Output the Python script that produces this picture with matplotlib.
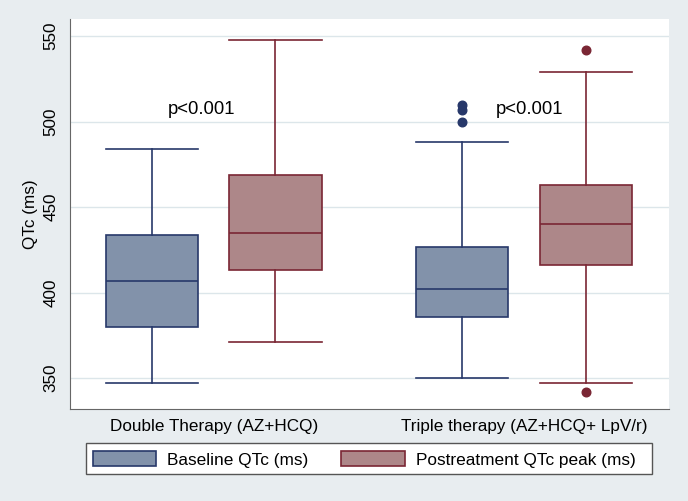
import numpy as np
import matplotlib
matplotlib.use("Agg")
import matplotlib.pyplot as plt
from matplotlib.patches import Patch, Rectangle

plt.rcParams['font.family'] = ['Liberation Sans', 'DejaVu Sans']

# Data (QTc in ms)
groups = ['Double Therapy (AZ+HCQ)', 'Triple therapy (AZ+HCQ+ LpV/r)']
series = ['Baseline QTc (ms)', 'Postreatment QTc peak (ms)']

# order: [double baseline, double post, triple baseline, triple post]
whislo = [347, 371, 350, 347]
q1 = [380, 413, 386, 416]
med = [407, 435, 402, 440]
q3 = [434, 469, 427, 463]
whishi = [484, 548, 488, 529]
fliers = [[], [], [500, 507, 510], [542, 342]]

p_text = ['p<0.001', 'p<0.001']
p_y = 507

bg = '#E8EDF0'
fills = ['#8292AA', '#AD8789']
edges = ['#27386A', '#7A2634']

W, H = 688, 501
fig = plt.figure(figsize=(6.88, 5.01), dpi=100, facecolor=bg)
ax = fig.add_axes([70 / W, 1 - 409 / H, 599 / W, 390 / H])
ax.set_facecolor('white')

group_x = [0.24, 0.758]
off = 0.103
positions = []
for gx in group_x:
    positions += [gx - off, gx + off]

stats = []
for i in range(4):
    stats.append(dict(whislo=whislo[i], q1=q1[i], med=med[i], q3=q3[i],
                      whishi=whishi[i], fliers=fliers[i]))

for i, st in enumerate(stats):
    c = i % 2
    ax.bxp([st], positions=[positions[i]], widths=0.154, patch_artist=True,
           showfliers=True,
           boxprops=dict(facecolor=fills[c], edgecolor=edges[c], linewidth=1.2),
           medianprops=dict(color=edges[c], linewidth=1.2),
           whiskerprops=dict(color=edges[c], linewidth=1.2),
           capprops=dict(color=edges[c], linewidth=1.2),
           capwidths=0.154,
           flierprops=dict(marker='o', markerfacecolor=edges[c], markeredgecolor=edges[c],
                           markersize=6.2))

ax.set_xlim(0, 1)
ax.set_ylim(332, 560)
ax.set_yticks([350, 400, 450, 500, 550])
ax.set_yticklabels(['350', '400', '450', '500', '550'], rotation=90, va='center')
ax.set_xticks(group_x)
ax.set_xticklabels(groups)
ax.tick_params(axis='x', length=0, pad=7, labelsize=12.3)
ax.tick_params(axis='y', length=0, pad=8.5, labelsize=12.3)
ax.grid(axis='y', color='#DCE6EA', linewidth=1)
ax.set_axisbelow(True)
ax.set_ylabel('QTc (ms)', fontsize=12.3, labelpad=3.5)

for sp in ['top', 'right']:
    ax.spines[sp].set_visible(False)
for sp in ['left', 'bottom']:
    ax.spines[sp].set_color('#666666')

ax.text(0.163, p_y, p_text[0], fontsize=13.3, va='center', ha='left')
ax.text(0.711, p_y, p_text[1], fontsize=13.3, va='center', ha='left')

# legend frame drawn by hand (Stata puts more room on the right)
frame = Rectangle((85.7 / W, 1 - 474.3 / H), (652.3 - 85.7) / W, 31 / H,
                  transform=fig.transFigure, facecolor='white', edgecolor='#555555',
                  linewidth=1.0, zorder=1)
fig.patches.append(frame)

handles = [Patch(facecolor=fills[k], edgecolor=edges[k], linewidth=1.2) for k in range(2)]
leg = fig.legend(handles, series, loc='center left', bbox_to_anchor=(92.7 / W, 1 - 459.5 / H),
                 ncol=2, fontsize=12.4, frameon=False, borderpad=0, borderaxespad=0,
                 handlelength=3.7, handleheight=0.93, handletextpad=0.64, columnspacing=1.9)
leg.set_zorder(5)

fig.savefig('out.png', dpi=100, facecolor=bg)
